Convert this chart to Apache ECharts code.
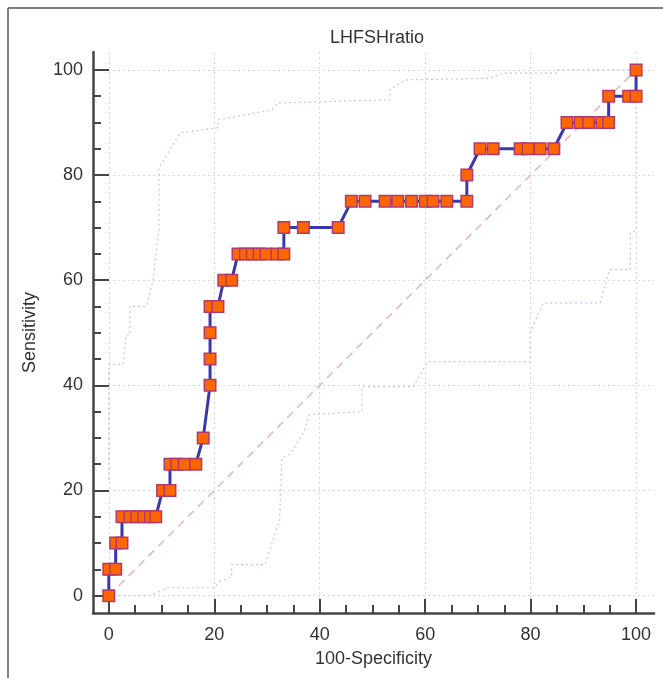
<!DOCTYPE html>
<html><head><meta charset="utf-8">
<script src="https://cdn.jsdelivr.net/npm/echarts@6/dist/echarts.min.js"></script>
<style>html,body{margin:0;padding:0;background:#fff}#c{width:663px;height:678px}</style>
</head><body><div id="c"></div>
<script>
const titleText = 'LHFSHratio';
const xName = '100-Specificity';
const yName = 'Sensitivity';
const majorTicks = [0, 20, 40, 60, 80, 100];
const minorTicks = [5, 10, 15, 25, 30, 35, 45, 50, 55, 65, 70, 75, 85, 90, 95];

// ROC curve points (100-Specificity, Sensitivity)
const rocX = [0, 0, 1.3, 1.3, 2.5, 2.5, 4.0, 5.3, 6.6, 7.9, 8.9, 10.2, 11.6, 11.6, 12.9, 14.3, 16.5, 17.9, 19.2, 19.2, 19.2, 19.2, 20.7, 21.8, 23.3, 24.5, 25.9, 27.2, 28.5, 29.8, 31.9, 33.2, 33.2, 36.9, 43.5, 46.0, 48.6, 52.4, 54.8, 57.4, 60.0, 61.5, 64.1, 67.9, 67.9, 70.4, 72.9, 78.0, 79.5, 81.8, 84.4, 86.9, 89.4, 91.0, 93.5, 94.8, 94.8, 98.6, 100, 100];
const rocY = [0, 5, 5, 10, 10, 15, 15, 15, 15, 15, 15, 20, 20, 25, 25, 25, 25, 30, 40, 45, 50, 55, 55, 60, 60, 65, 65, 65, 65, 65, 65, 65, 70, 70, 70, 75, 75, 75, 75, 75, 75, 75, 75, 75, 80, 85, 85, 85, 85, 85, 85, 90, 90, 90, 90, 90, 95, 95, 95, 100];

// 95% confidence bounds
const upperX = [0, 0, 2.7, 3.3, 4.0, 4.0, 7.1, 8.4, 9.5, 9.5, 13.5, 20.7, 20.7, 31.0, 32.0, 53.3, 53.3, 56.2, 72.3, 74.8, 85, 85, 100];
const upperY = [22, 44, 44, 49.6, 49.6, 55, 55, 60, 69.6, 81.3, 88, 89, 90.5, 92.4, 93.7, 94.3, 96.2, 98.1, 98.4, 99.4, 99.4, 100, 100];
const lowerX = [0, 7.8, 11.2, 20.1, 21.0, 23.3, 23.3, 29.6, 32.4, 32.8, 34.5, 37.2, 38, 48, 48, 57.7, 60.5, 79.9, 79.9, 82.4, 93.2, 95, 98.9, 98.9, 100, 100];
const lowerY = [0, 0, 1.5, 1.5, 2.7, 3.6, 5.9, 5.9, 14.4, 26.2, 27, 31.6, 34.4, 35, 39.7, 39.7, 44.5, 44.5, 50, 55.7, 55.7, 62, 62, 69, 69.5, 100];
const diagX = [0, 100];
const diagY = [0, 100];

const zip = (xs, ys) => xs.map((x, i) => [x, ys[i]]);

const font = 'Liberation Sans, Arial, sans-serif';
const chart = echarts.init(document.getElementById('c'), null, {renderer: 'canvas'});
const axisCommon = {
  type: 'value',
  axisLine: {show: true, onZero: false, lineStyle: {color: '#444', width: 2.5}},
  axisTick: {show: true, inside: true, length: 14, customValues: majorTicks, lineStyle: {color: '#444', width: 2}},
  axisLabel: {customValues: majorTicks, color: '#333', fontSize: 18, fontFamily: font},
  splitLine: {show: true, lineStyle: {color: '#d8d8d8', type: [2, 3], width: 1}},
  nameLocation: 'middle',
  nameTextStyle: {color: '#333', fontSize: 18, fontFamily: font}
};
const minorAxis = {
  type: 'value',
  axisLine: {show: false, onZero: false},
  axisTick: {show: true, inside: true, length: 8, customValues: minorTicks, lineStyle: {color: '#444', width: 2}},
  axisLabel: {show: false},
  splitLine: {show: false}
};
chart.setOption({
  animation: false,
  backgroundColor: '#fff',
  title: {text: titleText, left: 372, top: 24, textAlign: 'center',
    textStyle: {color: '#333', fontSize: 18, fontWeight: 'normal', fontFamily: font}},
  grid: {left: 93, right: 9, top: 52, bottom: 65, containLabel: false},
  xAxis: [
    Object.assign({}, axisCommon, {min: -3, max: 103.4, position: 'bottom', name: xName, nameGap: 37,
      axisLabel: Object.assign({}, axisCommon.axisLabel, {margin: 13})}),
    Object.assign({}, minorAxis, {min: -3, max: 103.4, position: 'bottom'})
  ],
  yAxis: [
    Object.assign({}, axisCommon, {min: -3.3, max: 103.4, position: 'left', name: yName, nameGap: 54,
      axisTick: Object.assign({}, axisCommon.axisTick, {length: 16}),
      axisLabel: Object.assign({}, axisCommon.axisLabel, {margin: 10})}),
    Object.assign({}, minorAxis, {min: -3.3, max: 103.4, position: 'left'})
  ],
  graphic: [
    {type: 'line', shape: {x1: 8, y1: 8, x2: 663, y2: 8}, style: {stroke: '#555', lineWidth: 1.5}},
    {type: 'line', shape: {x1: 8, y1: 8, x2: 8, y2: 678}, style: {stroke: '#555', lineWidth: 1.5}}
  ],
  series: [
    {type: 'line', data: zip(diagX, diagY), symbol: 'none', silent: true,
      lineStyle: {color: '#e6b3b8', width: 1.5, type: [8, 6]}, z: 1},
    {type: 'line', data: zip(upperX, upperY), symbol: 'none', silent: true,
      lineStyle: {color: '#c4c4ee', width: 1.2, type: [2, 3]}, z: 1},
    {type: 'line', data: zip(lowerX, lowerY), symbol: 'none', silent: true,
      lineStyle: {color: '#c4c4ee', width: 1.2, type: [2, 3]}, z: 1},
    {type: 'line', data: zip(rocX, rocY), symbol: 'rect', symbolSize: 11.5, z: 3,
      lineStyle: {color: '#3838aa', width: 3},
      itemStyle: {color: '#ff6600', borderColor: '#b03a70', borderWidth: 1.5}}
  ]
});
</script></body></html>
